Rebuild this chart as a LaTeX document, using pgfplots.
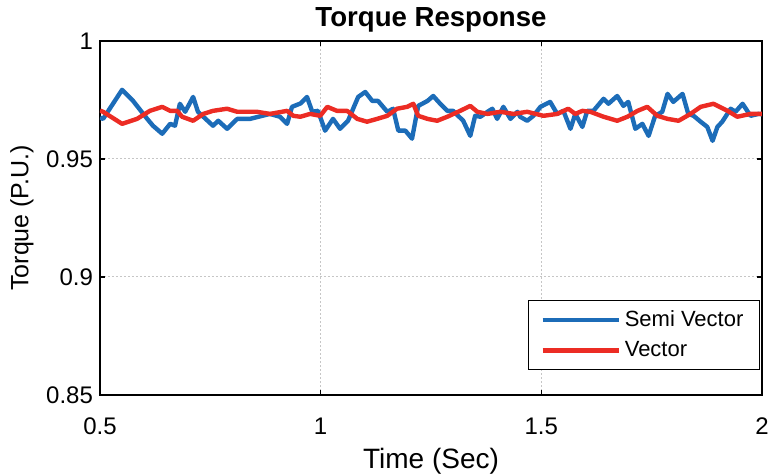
\documentclass[border=0pt]{standalone}
\usepackage{fontspec}
\setmainfont{Liberation Sans}
\usepackage{pgfplots}
\pgfplotsset{compat=1.18}

\definecolor{semiblue}{RGB}{28,108,184}
\definecolor{vecred}{RGB}{236,44,36}

\begin{document}
\begin{tikzpicture}
% fixes the page to the reference proportions (768 x 476 px at 0.5pt per px)
\useasboundingbox (-50pt,-40.5pt) rectangle (334pt,197.5pt);
\begin{axis}[
  scale only axis,
  width=331pt, height=177pt,
  xmin=0.5, xmax=2, ymin=0.85, ymax=1,
  xtick={0.5,1,1.5,2}, ytick={0.85,0.9,0.95,1},
  xticklabels={0.5,1,1.5,2},
  yticklabels={0.85,0.9,0.95,1},
  tick align=inside, major tick length=2.5pt,
  tick style={black, line width=0.6pt},
  axis line style={black, line width=1pt},
  grid=major,
  major grid style={gray!45, line width=0.5pt, dash pattern=on 1pt off 1pt},
  /pgf/number format/assume math mode=true,
  tick label style={font=\fontsize{12}{14}\selectfont, black},
  xticklabel style={yshift=-8pt},
  every axis title shift=0pt,
  title={Torque Response},
  title style={font=\fontsize{13.8}{16}\selectfont\bfseries, at={(axis description cs:0.5,1.04)}, anchor=base},
  xlabel={Time (Sec)},
  xlabel style={font=\fontsize{14}{16}\selectfont, at={(axis description cs:0.5,-0.187)}, anchor=center},
  ylabel={Torque (P.U.)},
  ylabel style={font=\fontsize{12.5}{15}\selectfont, at={(axis description cs:-0.118,0.5)}, anchor=center, rotate=0},
  legend style={at={(rel axis cs:0.997,0.07)}, anchor=south east, draw=black, line width=0.6pt,
    font=\fontsize{11}{13}\selectfont, inner xsep=6pt, inner ysep=3pt, row sep=2pt},
  legend cell align=left,
  legend image code/.code={\draw[#1, line width=2.2pt] (0pt,0pt) -- (38pt,0pt);},
]
\addplot[semiblue, line width=2.2pt, line join=round] coordinates {
  (0.500,0.9675)(0.507,0.9670)(0.550,0.9793)(0.575,0.9746)(0.607,0.9670)(0.620,0.9641)
  (0.641,0.9607)(0.659,0.9649)(0.670,0.9641)(0.681,0.9734)(0.693,0.9700)(0.711,0.9763)
  (0.722,0.9700)(0.756,0.9641)(0.768,0.9662)(0.788,0.9628)(0.811,0.9670)(0.840,0.9670)
  (0.885,0.9691)(0.908,0.9679)(0.924,0.9649)(0.935,0.9721)(0.954,0.9735)(0.969,0.9763)
  (0.981,0.9700)(0.994,0.9704)(1.010,0.9620)(1.028,0.9670)(1.044,0.9628)(1.062,0.9662)
  (1.085,0.9763)(1.101,0.9784)(1.117,0.9746)(1.130,0.9746)(1.151,0.9700)(1.164,0.9713)
  (1.176,0.9620)(1.192,0.9620)(1.207,0.9586)(1.221,0.9725)(1.242,0.9746)(1.255,0.9767)
  (1.271,0.9734)(1.287,0.9704)(1.300,0.9704)(1.323,0.9662)(1.339,0.9598)(1.350,0.9683)
  (1.362,0.9679)(1.378,0.9700)(1.389,0.9713)(1.400,0.9670)(1.414,0.9721)(1.430,0.9670)
  (1.446,0.9700)(1.452,0.9679)(1.468,0.9662)(1.482,0.9683)(1.498,0.9721)(1.520,0.9742)
  (1.536,0.9691)(1.550,0.9704)(1.566,0.9628)(1.577,0.9691)(1.593,0.9636)(1.604,0.9704)
  (1.618,0.9704)(1.641,0.9755)(1.652,0.9734)(1.672,0.9767)(1.686,0.9725)(1.697,0.9742)
  (1.713,0.9628)(1.729,0.9649)(1.743,0.9598)(1.758,0.9683)(1.774,0.9700)(1.786,0.9776)
  (1.799,0.9742)(1.820,0.9776)(1.833,0.9691)(1.845,0.9683)(1.861,0.9658)(1.876,0.9636)
  (1.888,0.9577)(1.899,0.9636)(1.910,0.9658)(1.929,0.9713)(1.940,0.9700)(1.956,0.9734)
  (1.974,0.9683)(1.992,0.9691)(2.000,0.9690)
};
\addlegendentry{Semi Vector}
\addplot[vecred, line width=2.2pt, line join=round] coordinates {
  (0.500,0.9705)(0.507,0.9700)(0.550,0.9649)(0.584,0.9670)(0.613,0.9704)(0.641,0.9721)
  (0.659,0.9704)(0.675,0.9704)(0.686,0.9679)(0.711,0.9662)(0.734,0.9691)(0.756,0.9704)
  (0.788,0.9713)(0.811,0.9700)(0.856,0.9700)(0.885,0.9691)(0.924,0.9704)(0.938,0.9683)
  (0.954,0.9679)(0.976,0.9691)(0.999,0.9683)(1.015,0.9721)(1.037,0.9704)(1.060,0.9704)
  (1.083,0.9670)(1.105,0.9658)(1.128,0.9670)(1.151,0.9683)(1.173,0.9713)(1.196,0.9721)
  (1.210,0.9734)(1.221,0.9683)(1.242,0.9670)(1.264,0.9662)(1.287,0.9679)(1.316,0.9704)
  (1.339,0.9725)(1.355,0.9700)(1.378,0.9691)(1.407,0.9700)(1.437,0.9691)(1.468,0.9700)
  (1.505,0.9683)(1.536,0.9691)(1.561,0.9713)(1.577,0.9691)(1.593,0.9704)(1.611,0.9700)
  (1.641,0.9679)(1.672,0.9662)(1.695,0.9679)(1.718,0.9704)(1.740,0.9721)(1.763,0.9683)
  (1.786,0.9670)(1.811,0.9662)(1.838,0.9691)(1.861,0.9721)(1.890,0.9734)(1.922,0.9704)
  (1.944,0.9679)(1.974,0.9691)(2.000,0.9691)
};
\addlegendentry{Vector}
\end{axis}
\end{tikzpicture}
\end{document}
